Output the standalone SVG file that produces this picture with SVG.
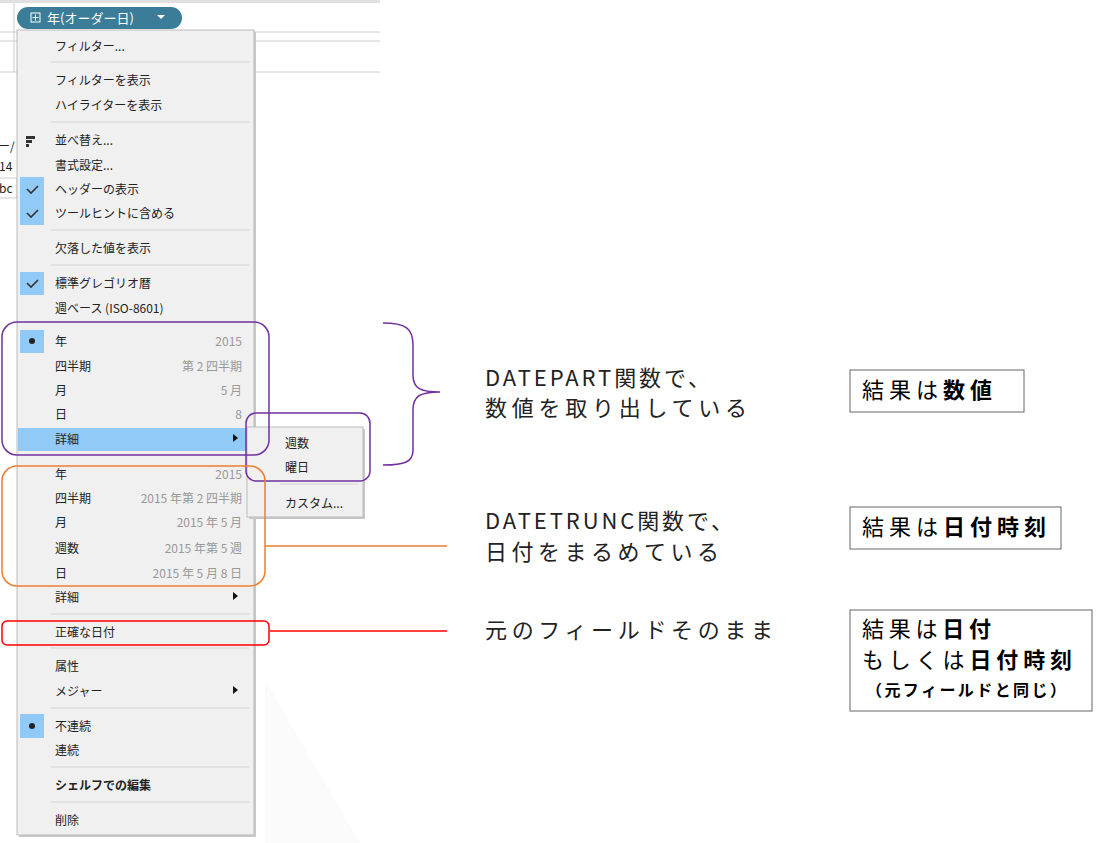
<svg xmlns="http://www.w3.org/2000/svg" width="1100" height="843" viewBox="0 0 1100 843">
<style>
.m{font-family:"Noto Sans CJK JP","Liberation Sans",sans-serif;font-size:12px;fill:#222}
.v{font-family:"Noto Sans CJK JP","Liberation Sans",sans-serif;font-size:12px;fill:#999;text-anchor:end}
.sep{stroke:#d4d4d4;stroke-width:1}
.big{font-family:"Noto Sans CJK JP","Liberation Sans",sans-serif;font-size:22px;fill:#222}
.res{font-family:"Noto Sans CJK JP","Liberation Sans",sans-serif;font-size:22px;fill:#000}
.chk{fill:#91c9f7}
</style>
<rect width="1100" height="843" fill="#fff"/>
<g id="background">
<rect x="0" y="0" width="380" height="3" fill="#e0e0e0"/>
<line x1="0" y1="32" x2="380" y2="32" stroke="#ccc"/>
<line x1="0" y1="41" x2="380" y2="41" stroke="#ccc"/>
<line x1="0" y1="72" x2="380" y2="72" stroke="#ccc"/>
<line x1="14" y1="3" x2="14" y2="72" stroke="#ccc"/>
<path d="M265 680 L360 843 L265 843 Z" fill="#fbfbfb"/>
<text x="-2" y="151" class="m">ー/</text>
<text x="-1" y="171" class="m">14</text>
<rect x="-2" y="178" width="19" height="20" fill="#fff" stroke="#ccc"/>
<text x="-1" y="193" class="m">bc</text>
</g>
<g id="pill">
<rect x="17" y="7" width="165" height="22" rx="11" fill="#3b7d98"/>
<rect x="31" y="13" width="9" height="9" fill="none" stroke="#fff"/>
<path d="M35.5 14.5v6M32.5 17.5h6" stroke="#fff"/>
<text x="47" y="23" class="m" style="fill:#fff;font-size:13px">年(オーダー日)</text>
<path d="M157 15h8l-4 4z" fill="#fff"/>
</g>
<g id="menu">
<rect x="19" y="32" width="237" height="805" fill="#c8c8c8"/>
<rect x="17" y="30" width="237" height="805" fill="#f0f0f0" stroke="#bbb"/>
<rect x="18" y="428" width="235" height="23" fill="#91c9f7"/>
<rect x="20" y="177" width="24" height="48" class="chk"/>
<rect x="20" y="272" width="24" height="23" class="chk"/>
<rect x="20" y="330" width="24" height="23" class="chk"/>
<rect x="20" y="714" width="24" height="24" class="chk"/>
<path d="M27 189l4 4 7-7M27 213l4 4 7-7M27 283l4 4 7-7" stroke="#333" stroke-width="1.6" fill="none"/>
<circle cx="32" cy="341" r="3" fill="#222"/><circle cx="32" cy="726" r="3" fill="#222"/>
<path d="M26 136h9v3h-9zM26 140h6v3h-6zM26 144h3v3h-3z" fill="#333"/>
<g>
<line x1="51" y1="62" x2="249" y2="62" class="sep"/>
<line x1="51" y1="122" x2="249" y2="122" class="sep"/>
<line x1="51" y1="230" x2="249" y2="230" class="sep"/>
<line x1="51" y1="265" x2="249" y2="265" class="sep"/>
<line x1="51" y1="614" x2="249" y2="614" class="sep"/>
<line x1="51" y1="648" x2="249" y2="648" class="sep"/>
<line x1="51" y1="708" x2="249" y2="708" class="sep"/>
<line x1="51" y1="767" x2="249" y2="767" class="sep"/>
<line x1="51" y1="802" x2="249" y2="802" class="sep"/>
</g>
<text x="55" y="51" class="m">フィルター...</text>
<text x="55" y="85" class="m">フィルターを表示</text>
<text x="55" y="110" class="m">ハイライターを表示</text>
<text x="55" y="145" class="m">並べ替え...</text>
<text x="55" y="170" class="m">書式設定...</text>
<text x="55" y="194" class="m">ヘッダーの表示</text>
<text x="55" y="218" class="m">ツールヒントに含める</text>
<text x="55" y="253" class="m">欠落した値を表示</text>
<text x="55" y="288" class="m">標準グレゴリオ暦</text>
<text x="55" y="313" class="m">週ベース (ISO-8601)</text>
<text x="55" y="346" class="m">年</text><text x="242" y="346" class="v">2015</text>
<text x="55" y="371" class="m">四半期</text><text x="242" y="371" class="v">第 2 四半期</text>
<text x="55" y="395" class="m">月</text><text x="242" y="395" class="v">5 月</text>
<text x="55" y="419" class="m">日</text><text x="242" y="419" class="v">8</text>
<text x="55" y="444" class="m">詳細</text><path d="M233 434l5 4-5 4z" fill="#111"/>
<text x="55" y="479" class="m">年</text><text x="242" y="479" class="v">2015</text>
<text x="55" y="503" class="m">四半期</text><text x="242" y="503" class="v">2015 年第 2 四半期</text>
<text x="55" y="527" class="m">月</text><text x="242" y="527" class="v">2015 年 5 月</text>
<text x="55" y="553" class="m">週数</text><text x="242" y="553" class="v">2015 年第 5 週</text>
<text x="55" y="578" class="m">日</text><text x="242" y="578" class="v">2015 年 5 月 8 日</text>
<text x="55" y="602" class="m">詳細</text><path d="M233 592l5 4-5 4z" fill="#111"/>
<text x="55" y="637" class="m">正確な日付</text>
<text x="55" y="671" class="m">属性</text>
<text x="55" y="696" class="m">メジャー</text><path d="M233 686l5 4-5 4z" fill="#111"/>
<text x="55" y="731" class="m">不連続</text>
<text x="55" y="755" class="m">連続</text>
<text x="55" y="790" class="m" style="font-weight:bold">シェルフでの編集</text>
<text x="55" y="825" class="m">削除</text>
</g>
<g id="submenu">
<rect x="249" y="429" width="116" height="90" fill="#c8c8c8"/>
<rect x="247" y="427" width="116" height="90" fill="#f0f0f0" stroke="#bbb"/>
<text x="285" y="448" class="m">週数</text>
<text x="285" y="472" class="m">曜日</text>
<line x1="280" y1="484" x2="358" y2="484" class="sep"/>
<text x="285" y="508" class="m">カスタム...</text>
</g>
<g id="highlights" fill="none" stroke-width="1.5">
<rect x="2" y="322" width="267" height="133" rx="15" stroke="#7030a0"/>
<rect x="246" y="413" width="124" height="68" rx="10" stroke="#7030a0"/>
<rect x="2" y="466" width="263" height="120" rx="15" stroke="#ed7d31"/>
<rect x="2" y="621" width="267" height="24" rx="5" stroke="#ff0000"/>
</g>
<g id="connectors" fill="none" stroke-width="1.5">
<path d="M383 323 C405 323 413 328 413 345 L413 375 C413 388 420 392 440 392 C420 392 413 396 413 410 L413 450 C413 462 405 465 383 465" stroke="#7030a0"/>
<line x1="265" y1="546" x2="447" y2="546" stroke="#ed7d31"/>
<line x1="270" y1="631" x2="447" y2="631" stroke="#ff0000"/>
</g>
<g id="labels">
<text x="485" y="386" class="big" textLength="225">DATEPART関数で、</text>
<text x="485" y="416" class="big" textLength="262">数値を取り出している</text>
<text x="485" y="529" class="big" textLength="248">DATETRUNC関数で、</text>
<text x="485" y="560" class="big" textLength="234">日付をまるめている</text>
<text x="485" y="638" class="big" textLength="288">元のフィールドそのまま</text>
</g>
<g id="results">
<rect x="850" y="370" width="174" height="42" fill="#fff" stroke="#666"/>
<text x="862" y="398" class="res" textLength="130">結果は<tspan font-weight="bold">数値</tspan></text>
<rect x="850" y="507" width="211" height="42" fill="#fff" stroke="#666"/>
<text x="862" y="535" class="res" textLength="184">結果は<tspan font-weight="bold">日付時刻</tspan></text>
<rect x="850" y="610" width="242" height="101" fill="#fff" stroke="#666"/>
<text x="862" y="637" class="res" textLength="129">結果は<tspan font-weight="bold">日付</tspan></text>
<text x="862" y="668" class="res" textLength="210">もしくは<tspan font-weight="bold">日付時刻</tspan></text>
<text x="866" y="696" class="res" style="font-size:16px;font-weight:bold" textLength="200">（元フィールドと同じ）</text>
</g>
</svg>
